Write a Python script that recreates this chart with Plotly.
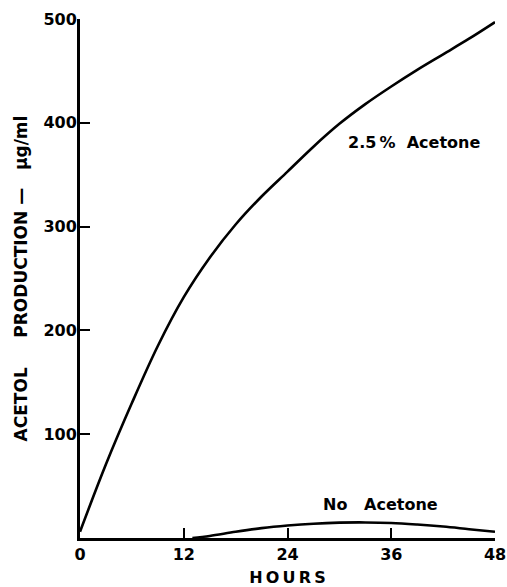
import plotly.graph_objects as go

hours_acetone = [0, 3, 6, 9, 12, 15, 18, 21, 24, 27, 30, 33, 36, 39, 42, 45, 48]
acetol_acetone = [6, 71, 130, 185, 232, 270, 302, 329, 353, 377, 399, 418, 435, 451, 466, 481, 497]

hours_none = [13, 15, 18, 21, 24, 27, 30, 33, 36, 39, 42, 45, 48]
acetol_none = [0, 2, 6, 9.5, 12, 13.8, 14.8, 15, 14.5, 13, 11, 8.5, 6]

x_ticks = [0, 12, 24, 36, 48]
y_ticks = [100, 200, 300, 400, 500]

FONT = "DejaVu Sans"
SP = "\u00a0"
TH = "\u2009"

fig = go.Figure()
fig.add_trace(go.Scatter(x=hours_acetone, y=acetol_acetone, mode="lines",
                         line=dict(color="black", width=2.6, shape="spline"),
                         showlegend=False, hoverinfo="skip"))
fig.add_trace(go.Scatter(x=hours_none, y=acetol_none, mode="lines",
                         line=dict(color="black", width=2.6, shape="spline"),
                         showlegend=False, hoverinfo="skip"))

fig.add_annotation(x=38.6, y=381, text="<b>2.5" + TH + "%" + SP * 2 + "Acetone</b>", showarrow=False,
                   font=dict(family=FONT, size=16, color="black"))
fig.add_annotation(x=34.7, y=32, text="<b>No" + SP * 3 + "Acetone</b>", showarrow=False,
                   font=dict(family=FONT, size=16, color="black"))

ytitle = "<b>ACETOL" + SP * 5 + "PRODUCTION" + SP + "—" + SP * 3 + "μg/ml</b>"
xtitle = "<b>" + TH.join("HOURS") + "</b>"

fig.update_layout(
    width=507, height=587,
    margin=dict(l=80, r=12, t=19, b=49),
    paper_bgcolor="white", plot_bgcolor="white",
    font=dict(family=FONT, color="black", size=16),
    xaxis=dict(range=[0, 48], tickvals=x_ticks, ticktext=["<b>%d</b>" % v for v in x_ticks],
               ticks="inside", ticklen=10, tickwidth=2, tickcolor="black",
               showline=True, linewidth=3, linecolor="black",
               showgrid=False, zeroline=False, automargin=False,
               title=dict(text=xtitle, font=dict(family=FONT, size=16), standoff=10),
               tickfont=dict(family=FONT, size=16)),
    yaxis=dict(range=[0, 500], tickvals=y_ticks, ticktext=["<b>%d</b>" % v for v in y_ticks],
               ticks="inside", ticklen=10, tickwidth=2, tickcolor="black",
               showline=True, linewidth=3, linecolor="black",
               showgrid=False, zeroline=False, automargin=False,
               ticklabelstandoff=-3,
               title=dict(text=ytitle, font=dict(family=FONT, size=17), standoff=12),
               tickfont=dict(family=FONT, size=16)),
)

fig.write_html("out.html", config={"displayModeBar": False},
               post_script="document.body.style.margin='0';document.body.style.overflow='hidden';")
